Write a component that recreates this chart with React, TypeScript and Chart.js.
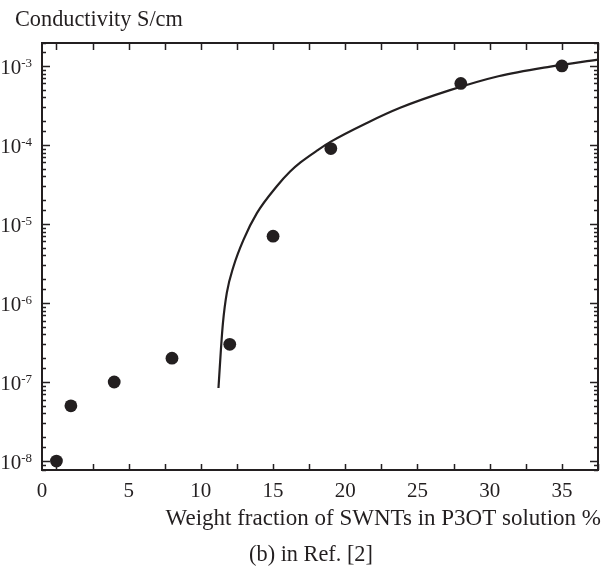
import React, { useEffect, useRef } from "react";
import { Chart, registerables } from "chart.js";

Chart.register(...registerables);

// Measured points
const measX = [0, 1, 4, 8, 12, 15, 19, 28, 35];
const measY = [1e-8, 5e-8, 1e-7, 2e-7, 3e-7, 7e-6, 9e-5, 6e-4, 1e-3];

// Fitted curve
const fitX = [11.22, 11.39, 11.53, 11.8, 12.26, 12.95, 13.88, 15.26, 16.18, 16.9, 18.1, 19.0, 21.5, 23.8, 27.2, 30.6, 34.2, 37.5];
const fitY = [8.4e-8, 2.6e-7, 5.6e-7, 1.35e-6, 2.9e-6, 6.3e-6, 1.37e-5, 3.0e-5, 4.6e-5, 6.0e-5, 8.6e-5, 1.1e-4, 1.9e-4, 2.95e-4, 4.9e-4, 7.4e-4, 9.8e-4, 1.2e-3];

// Axes
const xMin = -1;
const xMax = 37.5;
const yMin = 7.7e-9;
const yMax = 1.95e-3;
const xTickValues = [0, 2.5, 5, 7.5, 10, 12.5, 15, 17.5, 20, 22.5, 25, 27.5, 30, 32.5, 35, 37.5];
const xLabelValues = [0, 5, 10, 15, 20, 25, 30, 35];
const yLabelExponents = [-8, -7, -6, -5, -4, -3];

const yAxisTitle = "Conductivity S/cm";
const xAxisTitle = "Weight fraction of SWNTs in P3OT solution %";
const caption = "(b) in Ref. [2]";

const INK = "#231f20";
const FONT = "'Liberation Serif', 'Times New Roman', serif";

const decorPlugin = {
  id: "decor",
  afterDraw(chart: any) {
    const { ctx, chartArea: a } = chart;
    const xs = chart.scales.x;
    const ys = chart.scales.y;
    ctx.save();
    ctx.strokeStyle = INK;
    ctx.fillStyle = INK;

    // frame
    ctx.lineWidth = 2;
    ctx.strokeRect(a.left, a.top, a.right - a.left, a.bottom - a.top);

    // x ticks (bottom and top, inward)
    ctx.lineWidth = 1.5;
    for (const v of xTickValues) {
      if (v < xMin || v > xMax) continue;
      const px = Math.round(xs.getPixelForValue(v)) + 0.5;
      ctx.beginPath();
      ctx.moveTo(px, a.bottom);
      ctx.lineTo(px, a.bottom - 6);
      ctx.moveTo(px, a.top);
      ctx.lineTo(px, a.top + 7);
      ctx.stroke();
    }

    // y ticks (left and right, inward)
    for (const t of ys.ticks) {
      const v = t.value;
      if (v < yMin || v > yMax) continue;
      const lg = Math.log10(v);
      const major = Math.abs(lg - Math.round(lg)) < 1e-6;
      const len = major ? 8 : 4;
      const py = Math.round(ys.getPixelForValue(v)) + 0.5;
      ctx.beginPath();
      ctx.moveTo(a.left, py);
      ctx.lineTo(a.left + len, py);
      ctx.moveTo(a.right, py);
      ctx.lineTo(a.right - len, py);
      ctx.stroke();
    }

    // x tick labels
    ctx.font = `21px ${FONT}`;
    ctx.textAlign = "center";
    ctx.textBaseline = "alphabetic";
    for (const v of xLabelValues) {
      const px = v === 0 ? xs.getPixelForValue(xMin) : xs.getPixelForValue(v);
      ctx.fillText(String(v), px, a.bottom + 27);
    }

    // y tick labels: 10^e
    for (const e of yLabelExponents) {
      const py = ys.getPixelForValue(Math.pow(10, e));
      ctx.font = `13px ${FONT}`;
      const sup = String(e);
      const supW = ctx.measureText(sup).width;
      ctx.font = `21px ${FONT}`;
      const baseW = ctx.measureText("10").width;
      const right = 32;
      ctx.textAlign = "left";
      ctx.fillText("10", right - supW - baseW, py + 8);
      ctx.font = `13px ${FONT}`;
      ctx.fillText(sup, right - supW, py + 1);
    }

    // titles
    ctx.font = `22.3px ${FONT}`;
    ctx.textAlign = "left";
    ctx.fillText(yAxisTitle, 15, 26);
    ctx.textAlign = "center";
    ctx.fillText(caption, 311, 561);
    ctx.font = `23px ${FONT}`;
    ctx.textAlign = "right";
    ctx.fillText(xAxisTitle, 601, 525);
    ctx.restore();
  },
};

export default function App() {
  const ref = useRef<HTMLCanvasElement | null>(null);

  useEffect(() => {
    document.body.style.margin = "0";
    const canvas = ref.current;
    if (!canvas) return;
    const chart = new Chart(canvas, {
      type: "scatter",
      data: {
        datasets: [
          {
            label: "fit",
            data: fitX.map((x, i) => ({ x, y: fitY[i] })),
            showLine: true,
            borderColor: INK,
            borderWidth: 2.2,
            pointRadius: 0,
            cubicInterpolationMode: "monotone",
            fill: false,
          },
          {
            label: "measured",
            data: measX.map((x, i) => ({ x, y: measY[i] })),
            showLine: false,
            backgroundColor: INK,
            borderColor: INK,
            borderWidth: 0,
            pointRadius: 6.4,
          },
        ],
      },
      options: {
        animation: false,
        responsive: true,
        maintainAspectRatio: false,
        layout: { padding: { left: 42, top: 43, right: 13, bottom: 99 } },
        plugins: { legend: { display: false }, tooltip: { enabled: false } },
        scales: {
          x: {
            type: "linear",
            min: xMin,
            max: xMax,
            grid: { display: false, drawTicks: false },
            border: { display: false },
            ticks: { display: false },
          },
          y: {
            type: "logarithmic",
            min: yMin,
            max: yMax,
            grid: { display: false, drawTicks: false },
            border: { display: false },
            ticks: { display: false },
          },
        },
      },
      plugins: [decorPlugin],
    });
    return () => chart.destroy();
  }, []);

  return (
    <div style={{ width: 611, height: 569, position: "relative" }}>
      <canvas ref={ref} />
    </div>
  );
}
